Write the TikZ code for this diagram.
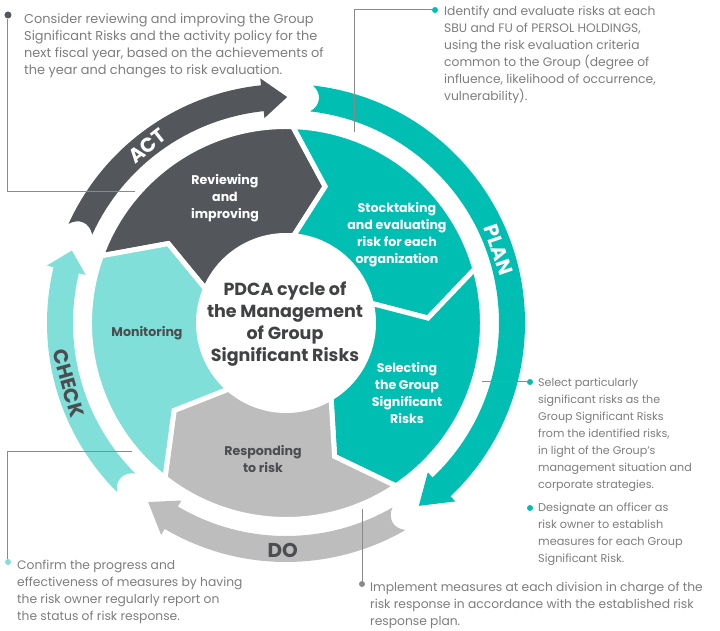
\documentclass[tikz,border=0pt]{standalone}
\usepackage{fontspec}
\setmainfont{Poppins}
\definecolor{actgray}{HTML}{53565A}
\definecolor{planteal}{HTML}{00BFB2}
\definecolor{checkteal}{HTML}{80DFD8}
\definecolor{dogray}{HTML}{BCBDBC}
\definecolor{notegray}{HTML}{7D7D7D}
\definecolor{labelgray}{HTML}{4B4D51}
\definecolor{coregray}{HTML}{414244}
\definecolor{leadgray}{HTML}{8A8A8A}
\begin{document}
\begin{tikzpicture}[x=1pt,y=1pt,
  note/.style={anchor=north west,inner sep=0,align=left,text=notegray,font=\fontsize{#1}{17}\selectfont},
  note/.default=12,
  seglabel/.style={align=center,inner sep=0,font=\bfseries\fontsize{12.6}{17}\selectfont},
  ringlabel/.style={inner sep=0,font=\bfseries\fontsize{20}{20}\selectfont},
  dot/.style={circle,inner sep=0,minimum size=6pt},
  lead/.style={draw=leadgray,line width=1pt}]
\def\rout{196.5}
\def\rin{87.5}
\def\rtip{142}

\useasboundingbox (-286,-308) rectangle (434,323);

% five chevron segments
\foreach \col/\a/\b in {actgray/160/88,planteal/88/16,planteal/16/-56,dogray/-56/-128,checkteal/-128/-200}
  \filldraw[fill=\col,draw=white,line width=5pt,line join=miter]
    (\a:\rout) arc[start angle=\a,end angle=\b,radius=\rout pt] -- ({\b-14}:\rtip)
    -- ({\b-3}:\rin) arc[start angle={\b-3},end angle={\a-3},radius=\rin pt] -- ({\a-14}:\rtip) -- cycle;

% outer ring arrows
\foreach \col/\t/\h/\p in {actgray/155.5/96/89.7,planteal/83.5/-46.5/-54,dogray/-60/-120.5/-127.6,checkteal/225/166.5/161.3}
  \fill[\col] (\t:239) arc[start angle=\t,end angle=\h,radius=239pt] -- (\h:246) -- (\p:226)
    -- (\h:206) -- (\h:213) arc[start angle=\h,end angle=\t,radius=213pt]
    .. controls ({\t-2.5}:220) and ({\t-2.5}:232) .. (\t:239) -- cycle;

\node[ringlabel,text=white,rotate=38] (act) at (128:225) {ACT};
\node[ringlabel,text=white,rotate=-71] (plan) at (19:225) {PLAN};
\node[ringlabel,text=labelgray,rotate=-74.5] (check) at (195.5:226) {CHECK};
\node[ringlabel,text=labelgray] (do) at (-90.8:227) {DO};

\node[align=center,text=coregray,font=\bfseries\fontsize{17.5}{22}\selectfont] (core) at (-1,-1) {PDCA cycle of\\the Management\\of Group\\Significant Risks};

\node[seglabel,text=white] (review) at (-61,125) {Reviewing\\and\\improving};
\node[seglabel,text=white] (stock) at (111,88) {Stocktaking\\and evaluating\\risk for each\\organization};
\node[seglabel,text=white] (select) at (121,-70) {Selecting\\the Group\\Significant\\Risks};
\node[seglabel,text=labelgray] (respond) at (-23,-136) {Responding\\to risk};
\node[seglabel,text=labelgray] (monitor) at (-139,-10) {Monitoring};

% notes
\node[note=12.9] (actnote) at (-262,310) {Consider reviewing and improving the Group\\Significant Risks and the activity policy for the\\next fiscal year, based on the achievements of\\the year and changes to risk evaluation.};
\node[note=12.3] (plannote) at (158,317) {Identify and evaluate risks at each\\SBU and FU of PERSOL HOLDINGS,\\using the risk evaluation criteria\\common to the Group (degree of\\influence, likelihood of occurrence,\\vulnerability).};
\node[note=11.1] (selnote) at (252,-55) {Select particularly\\significant risks as the\\Group Significant Risks\\from the identified risks,\\in light of the Group's\\management situation and\\corporate strategies.};
\node[note=11.3] (ownnote) at (252,-180) {Designate an officer as\\risk owner to establish\\measures for each Group\\Significant Risk.};
\node[note=12.3] (chknote) at (-269,-237) {Confirm the progress and\\effectiveness of measures by having\\the risk owner regularly report on\\the status of risk response.};
\node[note=12.3] (donote) at (84,-259) {Implement measures at each division in charge of the\\risk response in accordance with the established risk\\response plan.};

% leaders
\node[dot,fill=actgray,minimum size=7pt] (actdot) at (-278,308) {};
\node[dot,fill=planteal] (plandot) at (149,313) {};
\node[dot,fill=planteal] (seldot) at (244,-59) {};
\node[dot,fill=planteal] (owndot) at (244,-185) {};
\node[dot,fill=checkteal] (chkdot) at (-278,-239) {};
\node[dot,fill=leadgray] (dodot) at (76,-261) {};
\coordinate (actend) at (-151,131);
\coordinate (planend) at (68,191);
\coordinate (selend) at (196,-59);
\coordinate (chkend) at (-154,-129);
\coordinate (doend) at (76,-186);
\draw[lead] (actend) -| (actdot);
\draw[lead] (planend) |- (plandot);
\draw[lead] (selend) -- (seldot);
\draw[lead] (chkend) -| (chkdot);
\draw[lead] (doend) -- (dodot);
\end{tikzpicture}
\end{document}
